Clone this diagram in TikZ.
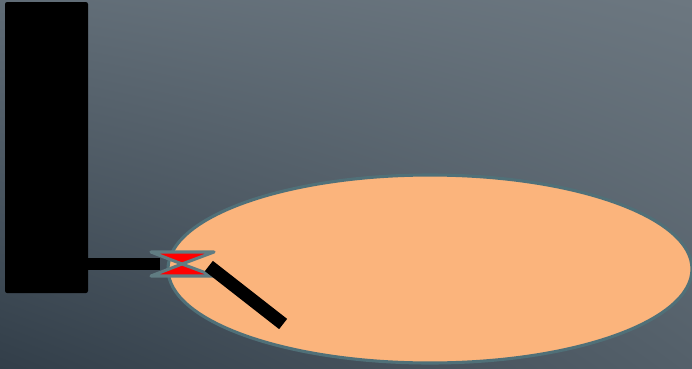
\documentclass[tikz,border=0pt]{standalone}
\usetikzlibrary{shapes.geometric,shadings}
\definecolor{bgtopl}{RGB}{96,108,118}
\definecolor{bgtopr}{RGB}{108,119,128}
\definecolor{bgbotl}{RGB}{50,62,73}
\definecolor{bgbotr}{RGB}{84,96,106}
\definecolor{basin}{RGB}{251,180,124}
\definecolor{rim}{RGB}{80,112,120}
\definecolor{valveedge}{RGB}{96,124,130}
\tikzset{
  tankbox/.style={draw=none,fill=black,rounded corners=1.5pt,minimum width=83*0.025cm,minimum height=291*0.025cm,inner sep=0pt},
  basinshape/.style={ellipse,fill=basin,draw=rim,line width=2.2pt,minimum width=524*0.025cm,minimum height=188*0.025cm,inner sep=0pt},
  pipe/.style={line width=12*0.025cm,black},
  valvepart/.style={fill=red,draw=valveedge,line width=2.2pt,line join=round}
}
\begin{document}
\begin{tikzpicture}[x=0.025cm,y=-0.025cm]
\useasboundingbox (0,0) rectangle (692,369);
\shade[upper left=bgtopl,upper right=bgtopr,lower left=bgbotl,lower right=bgbotr] (0,0) rectangle (692,369);
% tank and basin
\node[tankbox] (tank) at (46.5,147.5) {};
\node[basinshape] (basin) at (430,269) {};
% pipe into the valve
\coordinate (valvein) at (160,264);
\draw[pipe] (tank.east |- valvein) -- (valvein);
% valve
\draw[valvepart] (151,252) -- (214,252) -- (182,264) -- cycle;
\draw[valvepart] (151,276) -- (214,276) -- (182,264) -- cycle;
\coordinate (valve) at (182,264);
% outlet
\coordinate (outa) at (214,270);
\coordinate (outb) at (278,320);
\draw[pipe,line width=13*0.025cm,line cap=rect] (outa) -- (outb);
\end{tikzpicture}
\end{document}
